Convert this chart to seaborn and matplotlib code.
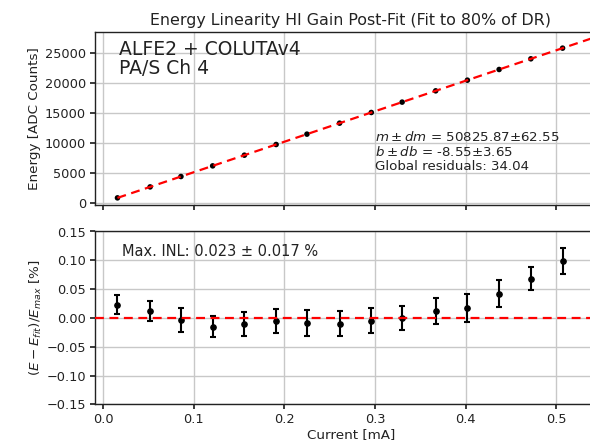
import numpy as np
import pandas as pd
import matplotlib
matplotlib.use("Agg")
import matplotlib.pyplot as plt
import seaborn as sns

# ---- data ----
currents = [0.016, 0.052, 0.086, 0.121, 0.156, 0.191, 0.225, 0.261,
            0.296, 0.330, 0.367, 0.402, 0.437, 0.472, 0.507]
energies = [805, 2634, 4363, 6141, 7920, 9699, 11427, 13257,
            15036, 16764, 18645, 20423, 22202, 23981, 25760]
residuals = [0.023, 0.012, -0.003, -0.015, -0.010, -0.006, -0.009, -0.010,
             -0.005, 0.000, 0.012, 0.017, 0.042, 0.068, 0.099]
res_err = [0.017, 0.017, 0.021, 0.019, 0.021, 0.021, 0.023, 0.022,
           0.022, 0.021, 0.023, 0.024, 0.023, 0.020, 0.022]
slope, slope_err = 50825.87, 62.55
intercept, intercept_err = -8.55, 3.65
global_res = 34.04
max_inl, max_inl_err = 0.023, 0.017
fit_x_end = 0.556

top_yticks = [0, 5000, 10000, 15000, 20000, 25000]
bot_yticks = [-0.15, -0.10, -0.05, 0.00, 0.05, 0.10, 0.15]
xticks = [0.0, 0.1, 0.2, 0.3, 0.4, 0.5]

df = pd.DataFrame({"current": currents, "energy": energies,
                   "res": residuals, "err": res_err})
fit_df = pd.DataFrame({"current": [currents[0], fit_x_end]})
fit_df["energy"] = slope * fit_df["current"] + intercept

sns.set_theme(style="ticks", rc={"axes.grid": True, "grid.color": "#c8c8c8",
                                 "grid.linewidth": 1.0,
                                 "axes.edgecolor": "#222222",
                                 "axes.linewidth": 1.0,
                                 "xtick.color": "#222222", "ytick.color": "#222222",
                                 "text.color": "#222222", "axes.labelcolor": "#222222"})
plt.rcParams["font.family"] = ["DejaVu Sans"]

fig = plt.figure(figsize=(5.9, 4.44), dpi=100)
W, H = 590, 444
left, right = 95, 607
ax1 = fig.add_axes([left / W, 1 - 205 / H, (right - left) / W, 173 / H])
ax2 = fig.add_axes([left / W, 1 - 404.3 / H, (right - left) / W, 172.8 / H])

ts = 9.3
ls = 9.7
# top panel
sns.scatterplot(data=df, x="current", y="energy", ax=ax1, color="black",
                s=16, edgecolor="none", zorder=3)
sns.lineplot(data=fit_df, x="current", y="energy", ax=ax1, color="red",
             linestyle=(0, (4, 2.5)), linewidth=1.6, zorder=4)
ax1.set_xlim(-0.0088, 0.556)
ax1.set_ylim(-383, 28450)
ax1.set_xticks(xticks)
ax1.set_xticklabels([])
ax1.set_yticks(top_yticks)
ax1.tick_params(labelsize=ts, length=3.5, pad=3)
ax1.set_xlabel("")
ax1.set_ylabel("Energy [ADC Counts]", fontsize=ls, labelpad=3)
ax1.set_title("Energy Linearity HI Gain Post-Fit (Fit to 80% of DR)", fontsize=11.4, pad=5)
ax1.text(0.047, 0.955, "ALFE2 + COLUTAv4\nPA/S Ch 4", transform=ax1.transAxes,
         fontsize=13.5, va="top", ha="left", linespacing=1.0)
ax1.text(0.3, 4900,
         f"$m \\pm dm$ = {slope:.2f}±{slope_err:.2f}\n"
         f"$b \\pm db$ = {intercept:.2f}±{intercept_err:.2f}\n"
         f"Global residuals: {global_res:.2f}",
         fontsize=9.6, va="bottom", ha="left", linespacing=1.1)

# bottom panel
ax2.errorbar(df["current"], df["res"], yerr=df["err"], fmt="o", color="black",
             markersize=3.8, capsize=2.5, elinewidth=1.5, capthick=1.5, zorder=3)
ax2.axhline(0, color="red", linestyle=(0, (4, 2.5)), linewidth=1.6, zorder=4)
ax2.set_xlim(-0.0088, 0.556)
ax2.set_ylim(-0.15, 0.15)
ax2.set_xticks(xticks)
ax2.set_xticklabels([f"{v:.1f}" for v in xticks])
ax2.set_yticks(bot_yticks)
ax2.set_yticklabels([f"{v:.2f}".replace("-", "\u2212") for v in bot_yticks])
ax2.tick_params(labelsize=ts, length=3.5, pad=3)
ax2.set_xlabel("Current [mA]", fontsize=ls, labelpad=1)
ax2.set_ylabel("$(E - E_{fit})/E_{max}$ [%]", fontsize=ls, labelpad=2)
ax2.text(0.052, 0.884, f"Max. INL: {max_inl:.3f} ± {max_inl_err:.3f} %",
         transform=ax2.transAxes, fontsize=10.5, va="center", ha="left")

for ax in (ax1, ax2):
    ax.set_axisbelow(True)

fig.savefig("out.png", dpi=100)
